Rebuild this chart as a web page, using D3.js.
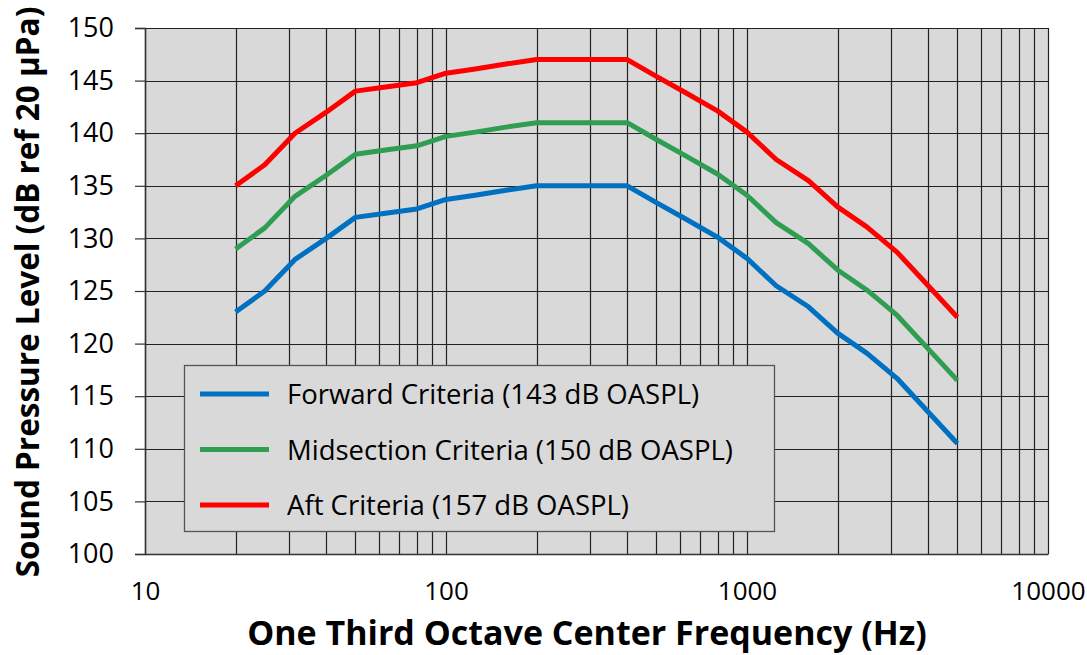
<!DOCTYPE html>
<html>
<head>
<meta charset="utf-8">
<script src="https://cdn.jsdelivr.net/npm/d3@7/dist/d3.min.js"></script>
<style>
  body { margin: 0; background: #fff; }
  text { font-family: "Open Sans", Lato, sans-serif; fill: #000; }
</style>
</head>
<body>
<script>
// one third octave bands
var freqs = [20, 25, 31.5, 40, 50, 63, 80, 100, 125, 160, 200, 250, 315, 400,
             500, 630, 800, 1000, 1250, 1600, 2000, 2500, 3150, 4000, 5000];

var forward = [123, 125, 128, 130, 132, 132.4, 132.8, 133.7, 134.1, 134.6, 135, 135, 135, 135,
               133.4, 131.8, 130.1, 128.1, 125.5, 123.5, 121, 119.1, 116.7, 113.5, 110.5];
var midsection = [129, 131, 134, 136, 138, 138.4, 138.8, 139.7, 140.1, 140.6, 141, 141, 141, 141,
                  139.4, 137.8, 136.1, 134.1, 131.5, 129.5, 127, 125.1, 122.7, 119.5, 116.5];
var aft = [135, 137, 140, 142, 144, 144.4, 144.8, 145.7, 146.1, 146.6, 147, 147, 147, 147,
           145.4, 143.8, 142.1, 140.1, 137.5, 135.5, 133, 131.1, 128.7, 125.5, 122.5];

var seriesNames = ["Forward Criteria (143 dB OASPL)", "Midsection Criteria (150 dB OASPL)", "Aft Criteria (157 dB OASPL)"];
var seriesColors = ["#0070c0", "#2f9e52", "#ff0000"];

var xTicks = [10, 100, 1000, 10000];
var yTicks = [100, 105, 110, 115, 120, 125, 130, 135, 140, 145, 150];

var width = 1087, height = 655;
var margin = {left: 145, right: 39, top: 28, bottom: 101};

var svg = d3.select("body").append("svg")
    .attr("width", width)
    .attr("height", height);

var x = d3.scaleLog().domain([10, 10000]).range([margin.left, width - margin.right]);
var y = d3.scaleLinear().domain([100, 150]).range([height - margin.bottom, margin.top]);

// plot background
svg.append("rect")
    .attr("x", x(10)).attr("y", y(150))
    .attr("width", x(10000) - x(10))
    .attr("height", y(100) - y(150))
    .attr("fill", "#d9d9d9");

// grid lines
var gridX = [];
[10, 100, 1000].forEach(function(d) {
    for (var k = 1; k <= 9; k++) gridX.push(d * k);
});
gridX.push(10000);

svg.append("g").selectAll("line")
    .data(gridX)
    .enter().append("line")
    .attr("x1", function(d) { return Math.round(x(d)) + 0.5; })
    .attr("x2", function(d) { return Math.round(x(d)) + 0.5; })
    .attr("y1", y(150)).attr("y2", y(100))
    .attr("stroke", "#222").attr("stroke-width", 1.2);

svg.append("g").selectAll("line")
    .data(yTicks)
    .enter().append("line")
    .attr("x1", x(10)).attr("x2", x(10000))
    .attr("y1", function(d) { return Math.round(y(d)) + 0.5; })
    .attr("y2", function(d) { return Math.round(y(d)) + 0.5; })
    .attr("stroke", "#222").attr("stroke-width", 1.2);

// y axis
var yAxis = svg.append("g")
    .attr("transform", "translate(" + x(10) + ",0)")
    .call(d3.axisLeft(y).tickValues(yTicks).tickSize(10).tickPadding(21));
yAxis.select(".domain").attr("stroke", "#333").attr("stroke-width", 1.5);
yAxis.selectAll(".tick line").attr("stroke", "#333").attr("stroke-width", 1.2);
yAxis.selectAll("text")
    .style("font-family", "'Open Sans', Lato, sans-serif")
    .style("font-size", "27px")
    .attr("fill", "#000");

// x axis
var xAxis = svg.append("g")
    .attr("transform", "translate(0," + y(100) + ")")
    .call(d3.axisBottom(x).tickValues(xTicks).tickFormat(d3.format("d")).tickSize(0).tickPadding(28));
xAxis.select(".domain").attr("stroke", "#333").attr("stroke-width", 1.5);
xAxis.selectAll("text")
    .style("font-family", "'Open Sans', Lato, sans-serif")
    .style("font-size", "26px")
    .attr("fill", "#000");

// lines
var line = d3.line()
    .x(function(d) { return x(d[0]); })
    .y(function(d) { return y(d[1]); });

[forward, midsection, aft].forEach(function(vals, i) {
    svg.append("path")
        .datum(freqs.map(function(f, j) { return [f, vals[j]]; }))
        .attr("d", line)
        .attr("fill", "none")
        .attr("stroke", seriesColors[i])
        .attr("stroke-width", 5)
        .attr("stroke-linejoin", "round");
});

// legend
var legend = svg.append("g");
legend.append("rect")
    .attr("x", 184.5).attr("y", 365.5)
    .attr("width", 590).attr("height", 166)
    .attr("fill", "#d9d9d9")
    .attr("stroke", "#555").attr("stroke-width", 1.3);

seriesNames.forEach(function(name, i) {
    var ly = 394 + i * 55.5;
    legend.append("line")
        .attr("x1", 200).attr("x2", 269)
        .attr("y1", ly).attr("y2", ly)
        .attr("stroke", seriesColors[i]).attr("stroke-width", 5);
    legend.append("text")
        .attr("x", 287).attr("y", ly + 10)
        .style("font-size", "27.5px")
        .text(name);
});

// axis titles
svg.append("text")
    .attr("x", 587).attr("y", 645)
    .attr("text-anchor", "middle")
    .style("font-size", "34px")
    .style("font-weight", "bold")
    .text("One Third Octave Center Frequency (Hz)");

svg.append("text")
    .attr("transform", "translate(39," + 292 + ") rotate(-90)")
    .attr("text-anchor", "middle")
    .style("font-size", "31.5px")
    .style("font-weight", "bold")
    .text("Sound Pressure Level  (dB ref 20 μPa)");
</script>
</body>
</html>
